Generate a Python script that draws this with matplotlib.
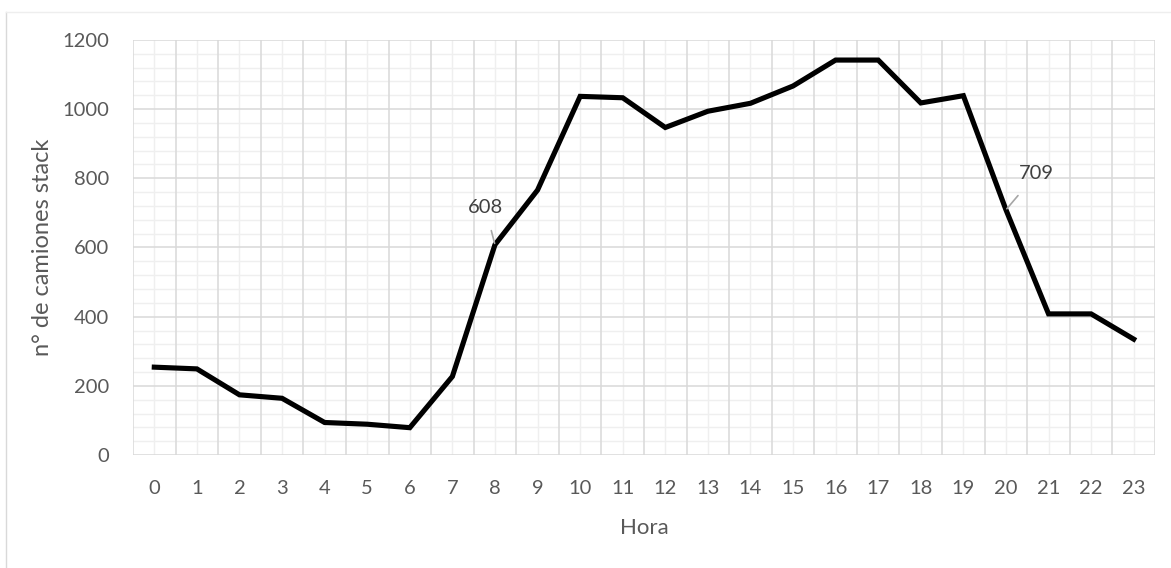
import numpy as np
import matplotlib.pyplot as plt
from matplotlib.ticker import FixedLocator, MultipleLocator
from matplotlib.lines import Line2D

# data
horas = list(range(24))
camiones = [254, 249, 174, 164, 94, 89, 79, 227, 608, 766, 1037, 1033,
            947, 994, 1017, 1067, 1142, 1142, 1018, 1039, 709, 408, 408, 335]
etiquetas = {8: "608", 20: "709"}

plt.rcParams['font.family'] = ['Lato', 'DejaVu Sans']
gris = "#595959"

fig = plt.figure(figsize=(11.71, 5.68), dpi=100)
ax = fig.add_axes([133/1171, 113/568, 1022/1171, 415/568])

ax.plot(horas, camiones, color="black", lw=3.7, solid_joinstyle="miter", zorder=3)

ax.set_xlim(-0.5, 23.5)
ax.set_ylim(0, 1200)

ax.xaxis.set_major_locator(FixedLocator(horas))
ax.set_xticklabels([str(h) for h in horas])
ax.yaxis.set_major_locator(MultipleLocator(200))
ax.tick_params(axis="both", length=0, labelsize=14.5, colors=gris)
ax.tick_params(axis="x", pad=18)
ax.tick_params(axis="y", pad=17)

# grid: light lines at category centres / every 40, darker at boundaries / every 200
for h in horas:
    ax.axvline(h, color="#efefef", lw=1.0, zorder=0)
for b in np.arange(-0.5, 24.0, 1.0):
    ax.axvline(b, color="#d9d9d9", lw=1.1, zorder=1)
for v in range(0, 1201, 40):
    if v % 200:
        ax.axhline(v, color="#efefef", lw=1.0, zorder=0)
for v in range(0, 1201, 200):
    ax.axhline(v, color="#d9d9d9", lw=1.1, zorder=1)

for s in ax.spines.values():
    s.set_visible(False)

ax.set_xlabel("Hora", fontsize=16, color=gris, labelpad=15)
ax.set_ylabel("n° de camiones stack", fontsize=17, color=gris, labelpad=7)

# data labels with leader lines
ax.annotate(etiquetas[8], xy=(8, camiones[8]), xytext=(-7, 27), textcoords="offset points",
            ha="center", va="center", fontsize=14.5, color="#404040",
            arrowprops=dict(arrowstyle="-", color="#a6a6a6", lw=1.2, shrinkA=9, shrinkB=1))
ax.annotate(etiquetas[20], xy=(20, camiones[20]), xytext=(22, 26), textcoords="offset points",
            ha="center", va="center", fontsize=14.5, color="#404040",
            arrowprops=dict(arrowstyle="-", color="#a6a6a6", lw=1.2, shrinkA=10, shrinkB=1))

# chart area border (cropped at right/bottom)
fig.add_artist(Line2D([6/1171, 6/1171], [0, 1 - 12/568], color="#d9d9d9", lw=1.0))
fig.add_artist(Line2D([6/1171, 1], [1 - 12/568, 1 - 12/568], color="#eeeeee", lw=1.0))

fig.savefig("out.png", dpi=100)
